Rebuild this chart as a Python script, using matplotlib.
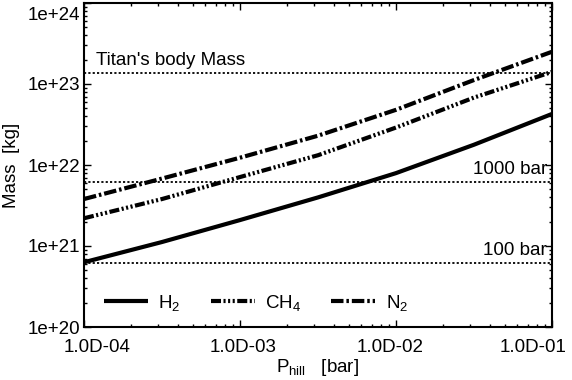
import numpy as np
import matplotlib
matplotlib.use("Agg")
import matplotlib.pyplot as plt
import matplotlib.transforms as mtransforms
from matplotlib.ticker import FixedLocator, LogLocator, NullFormatter

plt.rcParams['font.family'] = ['Liberation Sans', 'DejaVu Sans']
plt.rcParams['mathtext.fontset'] = 'custom'
plt.rcParams['mathtext.rm'] = 'Liberation Sans'
plt.rcParams['mathtext.it'] = 'Liberation Sans'

# Data
p_hill = [1e-4, 10**-3.5, 1e-3, 10**-2.5, 1e-2, 10**-1.5, 1e-1]
mass_h2 = [6.3e20, 1.12e21, 2.09e21, 3.98e21, 7.94e21, 1.78e22, 4.27e22]
mass_ch4 = [2.2e21, 3.8e21, 7.1e21, 1.32e22, 2.9e22, 6.8e22, 1.41e23]
mass_n2 = [3.8e21, 6.8e21, 1.23e22, 2.3e22, 4.8e22, 1.12e23, 2.5e23]
series_labels = ['H$_2$', 'CH$_4$', 'N$_2$']

ref_masses = [1.35e23, 6.2e21, 6.2e20]
ref_labels = ["Titan's body Mass", "1000 bar", "100 bar"]

x_ticks = [1e-4, 1e-3, 1e-2, 1e-1]
x_ticklabels = ['1.0D-04', '1.0D-03', '1.0D-02', '1.0D-01']
y_ticks = [1e20, 1e21, 1e22, 1e23, 1e24]
y_ticklabels = ['1e+20', '1e+21', '1e+22', '1e+23', '1e+24']

FS = 13.5
fig = plt.figure(figsize=(5.72, 3.80), dpi=100)
ax = fig.add_axes([84/572, 1-327/380, (552-84)/572, (327-3)/380])

lw = 3.0
ax.plot(p_hill, mass_h2, color='black', lw=lw, solid_capstyle='butt', label=series_labels[0])
ax.plot(p_hill, mass_ch4, color='black', lw=lw, dash_capstyle='butt',
        linestyle=(0, (2.4, 0.6, 0.5, 0.6, 0.5, 0.6, 0.5, 0.6)), label=series_labels[1])
ax.plot(p_hill, mass_n2, color='black', lw=lw, dash_capstyle='butt',
        linestyle=(0, (3.0, 0.7, 0.6, 0.7)), label=series_labels[2])

for m in ref_masses:
    ax.axhline(m, color='black', lw=1.3, linestyle=(0, (1.2, 1.2)))

ax.text(1.2e-4, ref_masses[0]*1.12, ref_labels[0], fontsize=FS, ha='left', va='bottom')
ax.text(0.093, ref_masses[1]*1.12, ref_labels[1], fontsize=FS, ha='right', va='bottom')
ax.text(0.093, ref_masses[2]*1.12, ref_labels[2], fontsize=FS, ha='right', va='bottom')

ax.set_xscale('log')
ax.set_yscale('log')
ax.set_xlim(1e-4, 1e-1)
ax.set_ylim(1e20, 1e24)

ax.xaxis.set_major_locator(FixedLocator(x_ticks))
ax.set_xticklabels(x_ticklabels)
ax.yaxis.set_major_locator(FixedLocator(y_ticks))
ax.set_yticklabels(y_ticklabels)
ax.xaxis.set_minor_locator(LogLocator(base=10, subs=np.arange(2, 10)))
ax.yaxis.set_minor_locator(LogLocator(base=10, subs=np.arange(2, 10)))
ax.xaxis.set_minor_formatter(NullFormatter())
ax.yaxis.set_minor_formatter(NullFormatter())

ax.tick_params(which='both', direction='in', top=True, right=True, width=1.0)
ax.tick_params(which='major', length=5)
ax.tick_params(which='minor', length=2.5)
ax.tick_params(axis='x', which='major', labelsize=FS, pad=9)
ax.tick_params(axis='y', which='major', labelsize=FS, pad=3)

# IDL-like label placement offsets (pixels)
x_offsets = [13, 3, -6, -19]
for lab, dx in zip(ax.get_xticklabels(), x_offsets):
    lab.set_transform(lab.get_transform() +
                      mtransforms.ScaledTranslation(dx/100, 0, fig.dpi_scale_trans))
ylabs = ax.get_yticklabels()
ylabs[-1].set_transform(ylabs[-1].get_transform() +
                        mtransforms.ScaledTranslation(0, -10/100, fig.dpi_scale_trans))

for s in ax.spines.values():
    s.set_linewidth(1.5)

ax.set_ylabel('Mass  [kg]', fontsize=FS, labelpad=5)
ax.set_xlabel(r'P$_{\rm hill}$   [bar]', fontsize=FS, labelpad=0)

ax.legend(loc='center left', ncol=3, frameon=False, fontsize=FS,
          handlelength=2.35, columnspacing=1.6, handletextpad=0.55,
          borderpad=0, borderaxespad=0,
          bbox_to_anchor=((104-84)/468, (327-303)/324))

fig.savefig('out.png', dpi=100)
